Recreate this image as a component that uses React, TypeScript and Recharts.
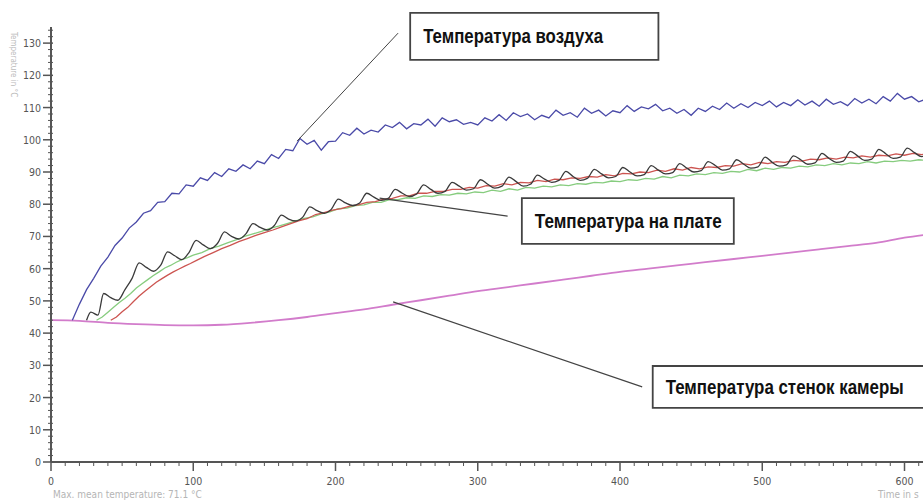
import React from 'react';
import {
  LineChart,
  Line,
  XAxis,
  YAxis,
  ReferenceLine,
  ReferenceArea
} from 'recharts';

// time (s) / temperature (°C) pairs
const airTime = [
  15, 20, 25, 30, 35, 40, 45, 50, 55, 60, 65, 70, 75, 80, 85, 90, 95, 100, 105, 110,
  115, 120, 125, 130, 135, 140, 145, 150, 155, 160, 165, 170, 175, 180, 185, 190, 195, 200, 205, 210,
  215, 220, 225, 230, 235, 240, 245, 250, 255, 260, 265, 270, 275, 280, 285, 290, 295, 300, 305, 310,
  315, 320, 325, 330, 335, 340, 345, 350, 355, 360, 365, 370, 375, 380, 385, 390, 395, 400, 405, 410,
  415, 420, 425, 430, 435, 440, 445, 450, 455, 460, 465, 470, 475, 480, 485, 490, 495, 500, 505, 510,
  515, 520, 525, 530, 535, 540, 545, 550, 555, 560, 565, 570, 575, 580, 585, 590, 595, 600, 605, 610, 615
];
const airTemp = [
  44, 49, 53.5, 57, 60.8, 63.6, 67.2, 69.5, 72.6, 74.5, 77.2, 78, 80.6, 80.8, 83.4, 83.2, 86, 85.6, 88.2, 87.4,
  89.8, 88.6, 91, 90.2, 92.2, 91, 93.4, 92.6, 95.4, 94.2, 97, 96.6, 100.4, 98.6, 99.8, 96.8, 99.4,
  99.6, 102.2, 101.4, 103.6, 101.8, 103, 102.4, 104.6, 103.8, 105.4,
  103.4, 105, 104.6, 106.4, 104.2, 106.8, 105.6, 106.2, 104.8, 105.4,
  104.6, 106.8, 105.8, 107.8, 106, 108.4, 107.2, 108, 106.2, 107.6,
  106.8, 109.2, 107.6, 108.4, 107, 109.8, 108.2, 109.2, 107.4, 109,
  108.4, 110.6, 108.8, 110.2, 109.6, 111, 109, 109.8, 108.2, 109.4,
  107.6, 109.8, 108.8, 110.4, 109.4, 111.4, 109.8, 111.2, 110, 111.6,
  110.6, 112, 110.2, 111.6, 110.6, 112.4, 110.8, 112, 110.4, 112.6,
  111, 111.8, 110.6, 112.8, 111.4, 112.6, 111.2, 113.4, 112, 114.4,
  112.6, 113.4, 111.8, 112.6
];

const boardMaxTime = [
  25, 28, 33, 37, 42, 47, 52, 57, 62, 67, 72, 77, 82, 87, 92, 97, 102, 107, 112, 117,
  122, 127, 132, 137, 142, 147, 152, 157, 162, 167, 172, 177, 182, 187, 192, 197, 202, 207, 212, 217,
  222, 227, 232, 237, 242, 247, 252, 257, 262, 267, 272, 277, 282, 287, 292, 297, 302, 307, 312, 317,
  322, 327, 332, 337, 342, 347, 352, 357, 362, 367, 372, 377, 382, 387, 392, 397, 402, 407, 412, 417,
  422, 427, 432, 437, 442, 447, 452, 457, 462, 467, 472, 477, 482, 487, 492, 497, 502, 507, 512, 517,
  522, 527, 532, 537, 542, 547, 552, 557, 562, 567, 572, 577, 582, 587, 592, 597, 602, 607, 612, 617
];
const boardMaxTemp = [
  44, 46.5, 45.6, 52.3, 51, 50.2, 53.5, 57, 61.8, 60.4, 59.2, 61, 65.2, 64, 62.8, 65, 68.8, 67.4, 66.2, 67.8,
  71.4, 70, 69.2, 70.8, 74, 72.8, 72, 73.4, 76.6, 75.4, 74.8, 76, 79.2, 78, 77.2, 78.4, 81.6, 80.4, 79.6, 80.4,
  83.4, 82.2, 81.2, 81.8, 84.6, 83.4, 82.4, 83.2, 86, 84.6, 83.4, 84, 86.8, 85.6, 84.4, 84.8, 87.6, 86.2, 85, 85.6,
  88.4, 87, 85.6, 86.2, 89, 87.8, 86.8, 87.4, 90.2, 88.6, 87.4, 88, 90.8, 89.4, 88.2, 88.6, 91.4, 90, 88.8, 89.2,
  92, 90.6, 89.4, 89.8, 92.6, 91.2, 90, 90.4, 93.2, 92, 90.6, 91, 93.8, 92.4, 91.2, 91.6, 94.6, 93, 91.8, 92.2,
  95, 93.8, 92.4, 92.8, 95.8, 94.2, 93, 93.4, 96.4, 95, 93.6, 94, 97, 95.6, 94.2, 94.6, 97.4, 96, 94.8, 95.2
];

const boardRedTime = [
  42, 46, 50, 54, 58, 62, 66, 70, 74, 78, 82, 86, 90, 94, 98, 102, 108, 114, 120, 126,
  132, 138, 144, 150, 156, 162, 168, 174, 180, 186, 192, 198, 204, 210, 216, 222, 228, 234, 240, 246,
  252, 258, 264, 270, 276, 282, 288, 294, 300, 306, 312, 318, 324, 330, 336, 342, 348, 354, 360, 366,
  372, 378, 384, 390, 396, 402, 408, 414, 420, 426, 432, 438, 444, 450, 456, 462, 468, 474, 480, 486,
  492, 498, 504, 510, 516, 522, 528, 534, 540, 546, 552, 558, 564, 570, 576, 582, 588, 594, 600, 606, 612, 618
];
const boardRedTemp = [
  44, 45, 46.6, 48, 49.8, 51.5, 53, 54.4, 55.8, 56.9, 58, 59, 59.9, 60.8, 61.6, 62.5, 63.8, 65, 66.2, 67.2,
  68.4, 69.3, 70.3, 71.2, 72, 73, 73.9, 74.8, 75.5, 76.8, 77.4, 78.2, 78.6, 79.4, 79.8, 80.6, 80.8, 81.6, 81.8, 82.6,
  82.6, 83.4, 83.4, 84, 84, 84.6, 84.6, 85.2, 85, 85.8, 85.6, 86.4, 86, 86.8, 86.6, 87.4, 87, 87.8, 87.6, 88.2,
  88, 88.6, 88.4, 89.2, 88.8, 89.6, 89.4, 90, 89.8, 90.6, 90.2, 91, 90.6, 91.4, 91, 91.6, 91.4, 92, 91.8, 92.6,
  92.2, 93, 92.6, 93.2, 93, 93.6, 93.4, 94, 93.8, 94.4, 94, 94.6, 94.4, 95, 94.6, 95.2, 95, 95.6, 95.2, 95.8, 95.4, 95.8
];

const boardGreenTime = [
  32, 36, 40, 44, 48, 52, 56, 60, 64, 68, 72, 76, 80, 84, 88, 92, 96, 100, 106, 112,
  118, 124, 130, 136, 142, 148, 154, 160, 166, 172, 178, 184, 190, 196, 202, 208, 214, 220, 226, 232,
  238, 244, 250, 256, 262, 268, 274, 280, 286, 292, 298, 304, 310, 316, 322, 328, 334, 340, 346, 352,
  358, 364, 370, 376, 382, 388, 394, 400, 406, 412, 418, 424, 430, 436, 442, 448, 454, 460, 466, 472,
  478, 484, 490, 496, 502, 508, 514, 520, 526, 532, 538, 544, 550, 556, 562, 568, 574, 580, 586, 592,
  598, 604, 610, 616
];
const boardGreenTemp = [
  44, 45, 46.5, 48, 49.5, 50.8, 52.3, 54, 55.3, 56.6, 57.9, 59, 60.2, 61, 62, 62.8, 63.4, 64.2, 65, 66.2,
  67, 68, 68.9, 70, 70.8, 71.6, 72.5, 73.2, 74, 74.8, 75.6, 76.1, 77, 77.6, 78.6, 78.8, 79.6, 79.8, 80.6, 80.6,
  81.4, 81.4, 82, 81.8, 82.6, 82.4, 83, 82.8, 83.4, 83.2, 83.8, 83.6, 84.4, 84, 84.8, 84.4, 85.2, 85, 85.6, 85.4,
  86, 85.8, 86.4, 86.2, 86.8, 86.6, 87.2, 87, 87.6, 87.4, 88, 87.8, 88.6, 88.2, 89, 88.8, 89.4, 89.2, 89.8, 89.6,
  90.2, 90, 90.8, 90.4, 91.2, 90.8, 91.4, 91.2, 91.8, 91.6, 92.2, 92, 92.6, 92.2, 92.8, 92.6, 93.2, 92.8, 93.4, 93.2,
  93.6, 93.4, 93.8, 93.6
];

const wallTime = [0, 20, 40, 60, 80, 100, 120, 140, 160, 180, 200, 220, 240, 260, 280, 300, 320, 340, 360, 380, 400, 420, 440, 460, 480, 500, 520, 540, 560, 580, 600, 620];
const wallTemp = [44, 43.8, 43.2, 42.8, 42.5, 42.4, 42.6, 43.2, 44, 45, 46.2, 47.4, 48.8, 50.2, 51.6, 53, 54.2, 55.4, 56.6, 57.8, 59, 60, 61, 62, 63, 64, 65, 66, 67, 68, 69.6, 70.8];

const xTicks = Array.from({ length: 62 }, (_, i) => i * 10);
const yTicks = Array.from({ length: 68 }, (_, i) => i * 2);

const toRows = (t: number[], v: number[]) => t.map((x, i) => ({ t: x, v: v[i] }));

const axisColor = '#555';
const labelFont = '"Liberation Sans Narrow", "DejaVu Sans Condensed", "Liberation Sans", sans-serif';
const boxFont = '"Liberation Sans", Arial, sans-serif';

const XTick = (props: any) => {
  const { x, y, payload } = props;
  const major = payload.value % 100 === 0;
  return (
    <g>
      <line x1={x} y1={y} x2={x} y2={y + (major ? 9 : 4)} stroke={axisColor} strokeWidth={major ? 1.5 : 1} />
      {major && (
        <text x={x} y={y + 23} textAnchor="middle" fontSize={10.5} fill="#555" fontFamily={labelFont}>
          {payload.value}
        </text>
      )}
    </g>
  );
};

const YTick = (props: any) => {
  const { x, y, payload } = props;
  const major = payload.value % 10 === 0;
  return (
    <g>
      <line x1={major ? x - 8 : x - 3} y1={y} x2={x + 2} y2={y} stroke={axisColor} strokeWidth={major ? 1.5 : 1} />
      {major && (
        <text x={x - 10} y={y + 4} textAnchor="end" fontSize={10.5} fill="#555" fontFamily={labelFont}>
          {payload.value}
        </text>
      )}
    </g>
  );
};

// condensed bold caption inside an annotation box
const BoxText = (props: any) => {
  const { viewBox, text, len } = props;
  if (!viewBox) return null;
  return (
    <text
      x={viewBox.x + 13}
      y={viewBox.y + viewBox.height / 2 + 7}
      textLength={len}
      lengthAdjust="spacingAndGlyphs"
      fontSize={20}
      fontWeight={700}
      fill="#111"
      fontFamily={boxFont}
    >
      {text}
    </text>
  );
};

export default function App() {
  return (
    <div style={{ position: 'absolute', left: 0, top: 0, width: 923, height: 500, background: '#fff', overflow: 'hidden' }}>
      <LineChart width={923} height={500} margin={{ top: 27, right: 0, bottom: 0, left: 0 }}>
        <XAxis
          type="number"
          dataKey="t"
          domain={[0, 613]}
          allowDataOverflow
          ticks={xTicks}
          interval={0}
          height={38}
          tickSize={0}
          tickMargin={0}
          tick={<XTick />}
          axisLine={{ stroke: axisColor, strokeWidth: 2 }}
        />
        <YAxis
          type="number"
          dataKey="v"
          domain={[0, 135]}
          allowDataOverflow
          ticks={yTicks}
          interval={0}
          width={51}
          tickSize={0}
          tickMargin={0}
          tick={<YTick />}
          axisLine={{ stroke: axisColor, strokeWidth: 2 }}
        />
        <Line data={toRows(wallTime, wallTemp)} dataKey="v" type="monotone" stroke="#d27ccb" strokeWidth={1.8} dot={false} isAnimationActive={false} />
        <Line data={toRows(boardGreenTime, boardGreenTemp)} dataKey="v" type="linear" stroke="#86cc7e" strokeWidth={1.3} dot={false} isAnimationActive={false} />
        <Line data={toRows(boardRedTime, boardRedTemp)} dataKey="v" type="linear" stroke="#cc5450" strokeWidth={1.3} dot={false} isAnimationActive={false} />
        <Line data={toRows(boardMaxTime, boardMaxTemp)} dataKey="v" type="monotone" stroke="#3a3a3a" strokeWidth={1.3} dot={false} isAnimationActive={false} />
        <Line data={toRows(airTime, airTemp)} dataKey="v" type="linear" stroke="#4a4aa8" strokeWidth={1.3} dot={false} isAnimationActive={false} />

        <ReferenceLine segment={[{ x: 244, y: 133.1 }, { x: 173, y: 99.6 }]} stroke="#444" strokeWidth={1} ifOverflow="visible" />
        <ReferenceLine segment={[{ x: 231, y: 81.9 }, { x: 321, y: 76.3 }]} stroke="#444" strokeWidth={1.2} ifOverflow="visible" />
        <ReferenceLine segment={[{ x: 240.5, y: 49.7 }, { x: 415.6, y: 23.3 }]} stroke="#444" strokeWidth={1.2} ifOverflow="visible" />

        <ReferenceArea x1={252.5} x2={427} y1={124.8} y2={139.4} fill="#fff" fillOpacity={1} stroke="#444" strokeWidth={1.8} ifOverflow="visible" label={<BoxText text="Температура воздуха" len={180} />} />
        <ReferenceArea x1={331} x2={480} y1={67.7} y2={81.9} fill="#fff" fillOpacity={1} stroke="#444" strokeWidth={1.8} ifOverflow="visible" label={<BoxText text="Температура на плате" len={187} />} />
        <ReferenceArea x1={423} x2={625} y1={16.8} y2={29.8} fill="#fff" fillOpacity={1} stroke="#444" strokeWidth={1.8} ifOverflow="visible" label={<BoxText text="Температура стенок камеры" len={238} />} />
      </LineChart>
      <svg width={923} height={500} style={{ position: 'absolute', left: 0, top: 0, pointerEvents: 'none' }}>
        <text transform="translate(11,32) rotate(90)" fontSize={8} fill="#bbb" fontFamily={labelFont}>
          Temperature in °C
        </text>
        <text x={53} y={498} fontSize={10} fill="#b5b5b5" fontFamily={labelFont}>
          Max. mean temperature: 71.1 °C
        </text>
        <text x={878} y={498} fontSize={10} fill="#b5b5b5" fontFamily={labelFont}>
          Time in s
        </text>
      </svg>
    </div>
  );
}
